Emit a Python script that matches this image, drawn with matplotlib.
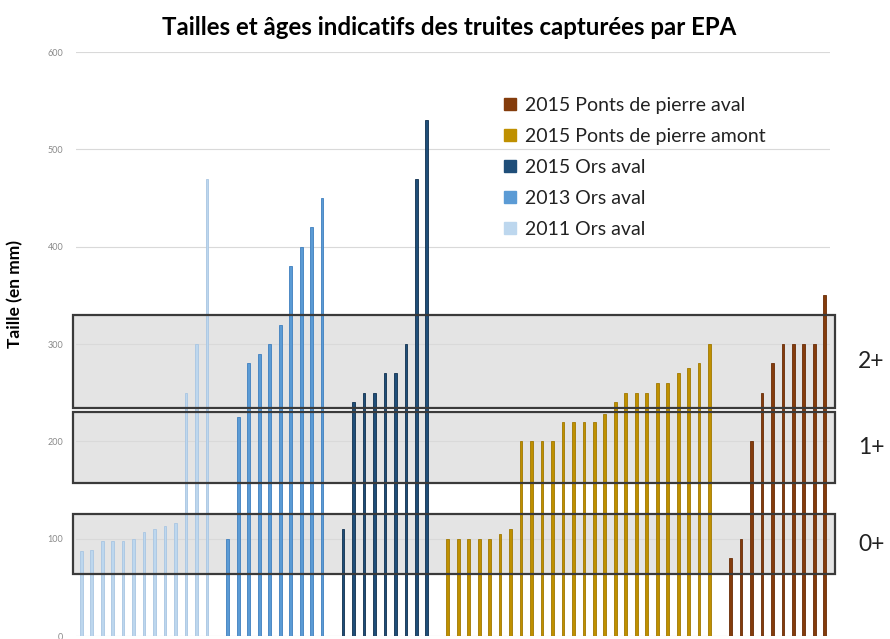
import numpy as np
import matplotlib
matplotlib.use("Agg")
import matplotlib.pyplot as plt
import matplotlib.transforms as mtransforms
from matplotlib.patches import Rectangle
from matplotlib.lines import Line2D

plt.rcParams['font.family'] = ['Lato', 'DejaVu Sans']

# series (fish sizes in mm, one bar per fish)
series_names = ["2011 Ors aval", "2013 Ors aval", "2015 Ors aval",
                "2015 Ponts de pierre amont", "2015 Ponts de pierre aval"]
ors_2011 = [87, 88, 98, 98, 98, 100, 107, 110, 113, 116, 250, 300, 470]
ors_2013 = [100, 225, 280, 290, 300, 320, 380, 400, 420, 450]
ors_2015 = [110, 240, 250, 250, 270, 270, 300, 470, 530]
amont_2015 = [100, 100, 100, 100, 100, 105, 110, 200, 200, 200, 200, 220, 220,
              220, 220, 228, 240, 250, 250, 250, 260, 260, 270, 275, 280, 300]
aval_2015 = [80, 100, 200, 250, 280, 300, 300, 300, 300, 350]
series_colors = ["#bdd7ee", "#5b9bd5", "#1f4e79", "#bf9000", "#843c0c"]
edge_colors = ["#a9c6e2", "#3f7fbf", "#10304f", "#a07800", "#6a2c06"]

# age classes (size ranges)
age_labels = ["0+", "1+", "2+"]
age_low = [64, 157, 234]
age_high = [125, 230, 330]

all_series = [ors_2011, ors_2013, ors_2015, amont_2015, aval_2015]

fig = plt.figure(figsize=(8.9, 6.39), dpi=100)
ax = fig.add_axes([76 / 890, 1 - 636 / 639, (830 - 76) / 890, (636 - 52) / 639])

start = 0
total = sum(len(s) for s in all_series) + len(all_series) - 1
for vals, c, ec, name in zip(all_series, series_colors, edge_colors, series_names):
    x = np.arange(start, start + len(vals))
    ax.bar(x, vals, width=0.26, color=c, edgecolor=ec, linewidth=0.6, zorder=2, label=name)
    start += len(vals) + 1

ax.set_xlim(-0.5, total - 0.5)
ax.set_ylim(0, 600)
ax.set_yticks(np.arange(0, 601, 100))
ax.tick_params(axis='y', length=0, labelsize=6.5, labelcolor='#8a8a8a', pad=9)
ax.set_xticks([])
for sp in ax.spines.values():
    sp.set_visible(False)
ax.yaxis.grid(True, color='#d9d9d9', linewidth=0.8, zorder=1)
ax.set_axisbelow(True)

# age class boxes
trans = mtransforms.blended_transform_factory(ax.transAxes, ax.transData)
for lo, hi, lab in zip(age_low, age_high, age_labels):
    ax.add_patch(Rectangle((-0.004, lo), 1.01, hi - lo, transform=trans,
                           facecolor='#e4e4e4', edgecolor='none', zorder=0.5, clip_on=False))
    ax.add_patch(Rectangle((-0.004, lo), 1.01, hi - lo, transform=trans,
                           facecolor='none', edgecolor='#3a3a3a', linewidth=1.6, zorder=3, clip_on=False))
    ax.text(1.055, (lo + hi) / 2, lab, transform=trans, fontsize=16.5, color='#222222',
            ha='center', va='center')

ax.set_ylabel("Taille (en mm)", fontsize=12.5, fontweight='bold')
ax.yaxis.set_label_coords(-0.07, 0.585)
fig.suptitle("Tailles et âges indicatifs des truites capturées par EPA",
             x=0.505, y=0.975, fontsize=17.3, fontweight='bold')

handles = [Line2D([], [], linestyle='none', marker='s', markersize=9,
                  markerfacecolor=c, markeredgecolor=c) for c in series_colors]
leg = ax.legend(handles[::-1], series_names[::-1], loc='upper left',
                bbox_to_anchor=(494 / 890, 1 - 89 / 639), bbox_transform=fig.transFigure,
                frameon=False, fontsize=14, handlelength=0.8, handletextpad=0.4,
                labelspacing=0.72, borderaxespad=0)
for t in leg.get_texts():
    t.set_color('#222222')

fig.savefig("out.png", dpi=100)
